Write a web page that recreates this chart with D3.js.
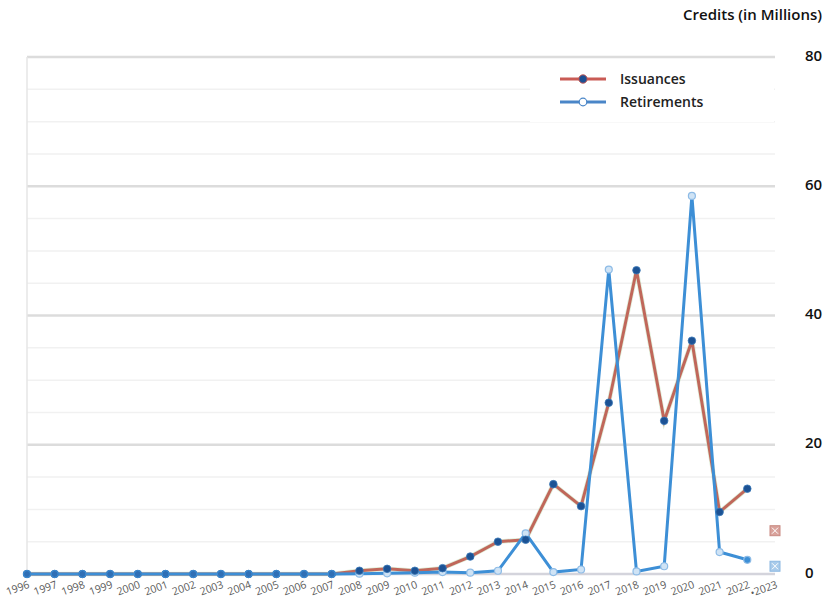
<!DOCTYPE html>
<html><head><meta charset="utf-8">
<script src="https://cdn.jsdelivr.net/npm/d3@7"></script>
<style>body{margin:0;background:#fff;}svg{display:block;}</style>
</head><body>
<script>
const years = ["1996","1997","1998","1999","2000","2001","2002","2003","2004","2005","2006","2007","2008","2009","2010","2011","2012","2013","2014","2015","2016","2017","2018","2019","2020","2021","2022","2023"];
const issuances = [0,0,0,0,0,0,0,0,0,0,0,0,0.5,0.8,0.5,0.9,2.7,5.0,5.3,13.9,10.5,26.5,47.0,23.7,36.1,9.6,13.2,6.7];
const retirements = [0,0,0,0,0,0,0,0,0,0,0,0,0.05,0.1,0.2,0.3,0.2,0.5,6.3,0.3,0.7,47.1,0.4,1.2,58.5,3.4,2.2,1.2];
const yTicks = [0,20,40,60,80];
const minorTicks = [5,10,15,25,30,35,45,50,55,65,70,75];

const W=831,H=601;
const svg=d3.select("body").append("svg").attr("width",W).attr("height",H);
const x=d3.scalePoint().domain(years).range([27,775]);
const y=d3.scaleLinear().domain([0,80]).range([574,57]);

svg.append("g").selectAll("line").data(minorTicks).join("line")
  .attr("x1",27).attr("x2",775).attr("y1",d=>y(d)).attr("y2",d=>y(d))
  .attr("stroke","#f1f1f1").attr("stroke-width",1.5);
svg.append("g").selectAll("line").data(yTicks).join("line")
  .attr("x1",27).attr("x2",775).attr("y1",d=>y(d)).attr("y2",d=>y(d))
  .attr("stroke",d=>d===0?"#d4d4dc":"#dcdcdc").attr("stroke-width",2.5);
svg.append("line").attr("x1",27).attr("x2",27).attr("y1",y(80)).attr("y2",y(0))
  .attr("stroke","#e6e6e6").attr("stroke-width",1.5);

svg.append("rect").attr("x",530).attr("y",60).attr("width",244).attr("height",62).attr("fill","#fff");

const yAxis=d3.axisRight(y).tickValues(yTicks).tickSize(0).tickPadding(0);
const ga=svg.append("g").attr("transform","translate(805,0)").call(yAxis);
ga.select(".domain").remove();
ga.selectAll("text").attr("font-family","'Open Sans',sans-serif").attr("font-size",15)
  .attr("font-weight",600).attr("fill","#111").attr("dy","0.2em");

svg.append("text").attr("x",822).attr("y",20).attr("text-anchor","end")
  .attr("font-family","'Open Sans',sans-serif").attr("font-size",15).attr("font-weight",600)
  .attr("fill","#111").text("Credits (in Millions)");

const xAxis=d3.axisBottom(x).tickSize(0).tickPadding(0);
const gx=svg.append("g").attr("transform","translate(0,580)").call(xAxis);
gx.select(".domain").remove();
gx.selectAll("text").attr("font-family","'Open Sans',sans-serif").attr("font-size",10.5)
  .attr("fill","#5a5a5a").attr("text-anchor","end").attr("dy","0.75em")
  .attr("transform","rotate(-20)")
  .text(d=>d==="2023"?"•2023":d);

const n=years.length-1;
const lineGen=d3.line().x((d,i)=>x(years[i])).y(d=>y(d));
svg.append("path").datum(issuances.slice(0,n)).attr("d",lineGen)
  .attr("fill","none").attr("stroke","#c9e3c0").attr("stroke-width",4.5).attr("stroke-opacity",0.6);
svg.append("path").datum(issuances.slice(0,n)).attr("d",lineGen)
  .attr("fill","none").attr("stroke","#c0675a").attr("stroke-width",3);
svg.append("path").datum(retirements.slice(0,n)).attr("d",lineGen)
  .attr("fill","none").attr("stroke","#3d8fd6").attr("stroke-width",3);

svg.append("g").selectAll("circle").data(retirements.slice(0,n)).join("circle")
  .attr("cx",(d,i)=>x(years[i])).attr("cy",d=>y(d)).attr("r",3.5)
  .attr("fill",(d,i)=>i===n-1?"#3d8fd6":"#cfe3f5").attr("stroke","#8dbbe6").attr("stroke-width",1.2);
svg.append("g").selectAll("circle").data(issuances.slice(0,n)).join("circle")
  .attr("cx",(d,i)=>x(years[i])).attr("cy",d=>y(d)).attr("r",3.8)
  .attr("fill","#1c5294").attr("stroke","#3a79b8").attr("stroke-width",0.8);
svg.append("g").selectAll("circle").data(retirements.slice(0,12)).join("circle")
  .attr("cx",(d,i)=>x(years[i])).attr("cy",d=>y(d)).attr("r",3.5)
  .attr("fill","#2f6fb5").attr("stroke","#3d8fd6").attr("stroke-width",1);

function sq(val,fill,stroke){
  const cx=x("2023"),cy=y(val);
  const g=svg.append("g");
  g.append("rect").attr("x",cx-5).attr("y",cy-5).attr("width",10).attr("height",10)
    .attr("fill",fill).attr("stroke",stroke).attr("stroke-width",1);
  g.append("path").attr("d",`M${cx-3},${cy-3}L${cx+3},${cy+3}M${cx+3},${cy-3}L${cx-3},${cy+3}`)
    .attr("stroke","#fff").attr("stroke-width",1);
}
sq(issuances[n],"#d9a29b","#c98a82");
sq(retirements[n],"#a9cbea","#8cb8e2");

const leg=[{name:"Issuances",color:"#c95b55",filled:true},{name:"Retirements",color:"#4a86c8",filled:false}];
leg.forEach((l,i)=>{
  const ly=79+i*23;
  svg.append("line").attr("x1",560).attr("x2",606).attr("y1",ly).attr("y2",ly)
    .attr("stroke",l.color).attr("stroke-width",3);
  svg.append("circle").attr("cx",583).attr("cy",ly).attr("r",l.filled?4.2:3.8)
    .attr("fill",l.filled?"#1c4f93":"#fff").attr("stroke",l.filled?"#c95b55":l.color).attr("stroke-width",l.filled?1:1.2);
  svg.append("text").attr("x",620).attr("y",ly).attr("dy","0.35em")
    .attr("font-family","'Open Sans',sans-serif").attr("font-size",14).attr("font-weight",600)
    .attr("fill","#222").text(l.name);
});
</script>
</body></html>
